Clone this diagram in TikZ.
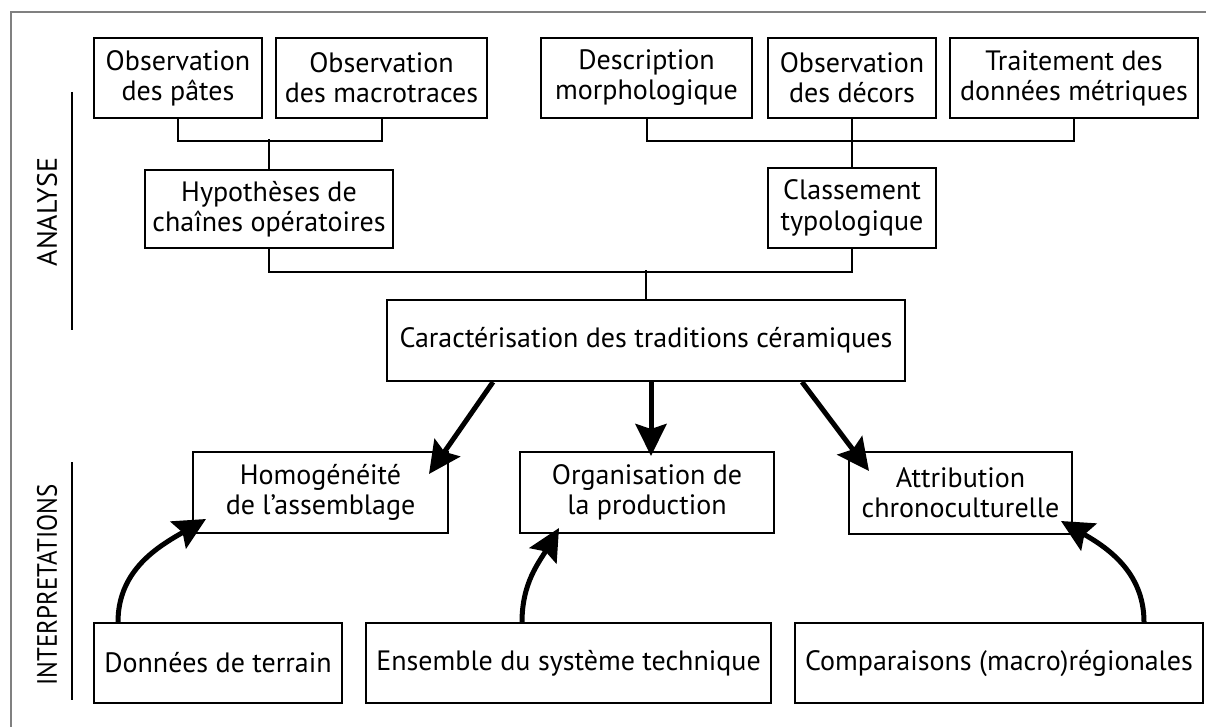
\documentclass[tikz,border=0pt]{standalone}
\usepackage{fontspec}
\setmainfont{PT Sans}
\usetikzlibrary{arrows.meta, positioning}

\tikzset{
  box/.style={draw, line width=2pt, minimum height=80pt, inner sep=0pt, align=center, font=\fontsize{28}{30}\selectfont},
  trait/.style={line width=2pt},
  fleche/.style={line width=5pt, -{Stealth[length=32pt, width=31pt, inset=5pt]}},
  etiquette/.style={rotate=90, font=\fontsize{28}{30}\selectfont},
}

\begin{document}
\begin{tikzpicture}[x=1pt, y=1pt]
    \useasboundingbox (0,0) rectangle (1206,-727);
    \draw[gray, line width=2pt] (11,-727) -- (11,-12) -- (1206,-12);

    % analyse
    \node (pates)  [box, minimum width=168pt] at (178,-78) {Observation\\des pâtes};
    \node (macro)  [box, minimum width=211pt] at (381.5,-78) {Observation\\des macrotraces};
    \node (descr)  [box, minimum width=211pt] at (646.5,-78) {Description\\morphologique};
    \node (decors) [box, minimum width=168pt] at (852,-78) {Observation\\des décors};
    \node (metri)  [box, minimum width=248pt] at (1074,-78) {Traitement des\\données métriques};
    \node (hyp)    [box, minimum width=248pt, minimum height=78pt] at (269,-209) {Hypothèses de\\chaînes opératoires};
    \node (classe) [box, minimum width=168pt] at (852,-208) {Classement\\typologique};
    \node (carac)  [box, minimum width=518pt, minimum height=81pt] at (646,-340.5) {Caractérisation des traditions céramiques};

    \draw[trait] (pates.south) -- ++(0,-22) -| (macro.south);
    \draw[trait] (hyp.north) -- ++(0,30);
    \draw[trait] (descr.south) -- ++(0,-22) -| (metri.south);
    \draw[trait] (decors.south) -- (classe.north);
    \draw[trait] (hyp.south) -- ++(0,-23) -| (classe.south);
    \draw[trait] (carac.north) -- ++(0,29);

    % interpretations
    \node (homo)  [box, minimum width=255pt, minimum height=81pt] at (320.5,-492.5) {Homogénéité\\de l’assemblage};
    \node (orga)  [box, minimum width=254pt, minimum height=81pt] at (647,-492.5) {Organisation de\\la production};
    \node (attri) [box, minimum width=223pt, minimum height=82pt] at (960.5,-493) {Attribution\\chronoculturelle};
    \node (donnees)  [box, minimum width=248pt] at (218,-663) {Données de terrain};
    \node (ensemble) [box, minimum width=405pt] at (568.5,-663) {Ensemble du système technique};
    \node (compa)    [box, minimum width=408pt] at (999,-663) {Comparaisons (macro)régionales};

    \draw[fleche] ([xshift=-153pt]carac.south) -- ([shift={(-20pt,-23pt)}]homo.north east);
    \draw[fleche] ([xshift=5pt]carac.south) -- ([xshift=4pt, yshift=-5pt]orga.north);
    \draw[fleche] ([xshift=156pt]carac.south) -- ([shift={(21pt,-20pt)}]attri.north west);

    \draw[fleche] ([xshift=-100pt]donnees.north) to[out=90, in=210] ([shift={(14pt,-68pt)}]homo.north west);
    \draw[fleche] ([xshift=-46.5pt]ensemble.north) to[out=90, in=240] ([shift={(40pt,6pt)}]orga.south west);
    \draw[fleche] ([xshift=145pt]compa.north) to[out=90, in=-30] ([shift={(-12pt,14pt)}]attri.south east);

    % cotes
    \node (analyse) [etiquette] at (47,-212) {ANALYSE};
    \draw[trait] (72,-92) -- (72,-330);
    \node (interp) [etiquette] at (47,-585) {\scalebox{0.89}[1]{INTERPRETATIONS}};
    \draw[trait] (72,-462) -- (72,-700);
\end{tikzpicture}
\end{document}
